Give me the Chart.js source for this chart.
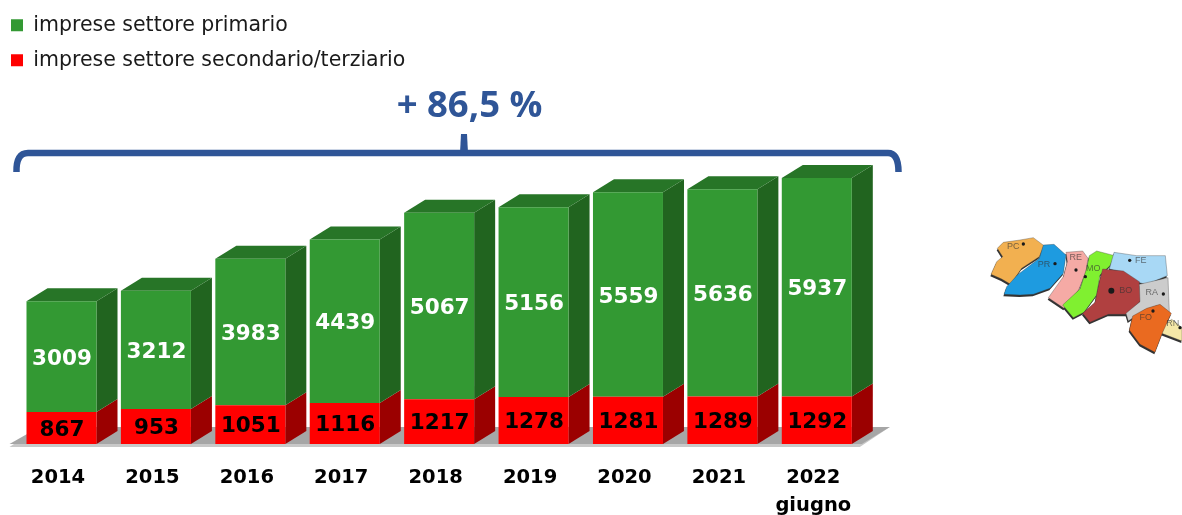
<!DOCTYPE html>
<html>
<head>
<meta charset="utf-8">
<title>Imprese</title>
<script src="https://cdn.jsdelivr.net/npm/chart.js@4"></script>
<style>
  html, body { margin: 0; padding: 0; background: #fff; }
  canvas { display: block; }
</style>
</head>
<body>
<canvas id="dataChart" width="1182" height="515"></canvas>
<script>
const years = ['2014', '2015', '2016', '2017', '2018', '2019', '2020', '2021', ['2022', 'giugno']];
const secondario = [867, 953, 1051, 1116, 1217, 1278, 1281, 1289, 1292];
const primario = [3009, 3212, 3983, 4439, 5067, 5156, 5559, 5636, 5937];
const seriesNames = ['imprese settore secondario/terziario', 'imprese settore primario'];
const growthLabel = '+ 86,5 %';

const depthX = 21;
const depthY = 13;
const sideColors = ['#9b0000', '#21641f'];
const topColor = '#277527';
const blue = '#2f5597';

function poly(ctx, pts, fill) {
    ctx.beginPath();
    pts.forEach((p, i) => i ? ctx.lineTo(p[0], p[1]) : ctx.moveTo(p[0], p[1]));
    ctx.closePath();
    ctx.fillStyle = fill;
    ctx.fill();
}

// gray floor + side and top faces of the bars, built from the bar elements
const bars3d = {
    id: 'bars3d',
    beforeDatasetsDraw(chart) {
        const ctx = chart.ctx;
        const low = chart.getDatasetMeta(0).data;
        const first = low[0];
        const last = low[low.length - 1];
        const floorY = first.base;
        const l = first.x - first.width / 2 - 17;
        const r = last.x + last.width / 2 + 8;
        poly(ctx, [[l, floorY + 3], [r, floorY + 3], [r + 30, floorY - 17], [l + 30, floorY - 17]], '#c8c8c8');
        poly(ctx, [[l, floorY], [r + 2, floorY], [r + 30, floorY - 17], [l + 30, floorY - 17]], '#a6a6a6');

        chart.data.datasets.forEach((ds, d) => {
            chart.getDatasetMeta(d).data.forEach(bar => {
                const right = bar.x + bar.width / 2;
                const left = bar.x - bar.width / 2;
                poly(ctx, [[right, bar.base], [right + depthX, bar.base - depthY],
                    [right + depthX, bar.y - depthY], [right, bar.y]], sideColors[d]);
                if (d === chart.data.datasets.length - 1) {
                    poly(ctx, [[left, bar.y], [left + depthX, bar.y - depthY],
                        [right + depthX, bar.y - depthY], [right, bar.y]], topColor);
                }
            });
        });
    },
    afterDatasetsDraw(chart) {
        const ctx = chart.ctx;
        ctx.save();
        ctx.font = 'bold 21.5px "DejaVu Sans"';
        ctx.textAlign = 'center';
        ctx.textBaseline = 'middle';
        chart.data.datasets.forEach((ds, d) => {
            ctx.fillStyle = d === 0 ? '#000000' : '#ffffff';
            chart.getDatasetMeta(d).data.forEach((bar, i) => {
                const c = bar.getCenterPoint();
                ctx.fillText(ds.data[i], c.x + 0.5, c.y + (d === 0 ? 2 : 2.5));
            });
        });
        ctx.restore();
    }
};

// curly bracket and growth figure above the bars
const bracket = {
    id: 'bracket',
    afterDraw(chart) {
        const ctx = chart.ctx;
        ctx.save();
        ctx.strokeStyle = blue;
        ctx.lineWidth = 6.5;
        ctx.beginPath();
        ctx.moveTo(16.5, 172);
        ctx.quadraticCurveTo(16, 153, 28, 153);
        ctx.lineTo(888, 153);
        ctx.quadraticCurveTo(898.5, 153, 898.5, 172);
        ctx.stroke();
        poly(ctx, [[460, 153], [461, 134], [467, 134], [468, 153]], blue);

        ctx.fillStyle = blue;
        ctx.font = 'bold 36.5px "Open Sans"';
        ctx.textAlign = 'center';
        ctx.textBaseline = 'middle';
        ctx.fillText(growthLabel, 469.5, 107);
        ctx.restore();
    }
};

// small region map on the right, traced on a 3x grid
const regions = [
    { name: 'PC', color: '#f2b050', tx: 100, ty: 65, dx: 130, dy: 57, pts: [[70,52],[120,45],[160,38],[192,62],[178,95],[125,130],[92,178],[65,162],[33,148],[50,110],[68,95],[52,70]] },
    { name: 'PR', color: '#1e9be0', tx: 192, ty: 120, dx: 225, dy: 116, pts: [[190,60],[222,58],[258,90],[250,145],[210,190],[160,208],[120,210],[72,208],[80,185],[112,150],[178,100]] },
    { name: 'RE', color: '#f5aaa5', tx: 287, ty: 97, dx: 288, dy: 135, pts: [[258,82],[308,78],[324,100],[318,140],[296,195],[252,250],[205,218],[250,155],[262,110]] },
    { name: 'MO', color: '#80f030', tx: 340, ty: 132, dx: 316, dy: 155, pts: [[328,92],[350,78],[404,92],[390,122],[360,150],[350,210],[312,262],[280,278],[248,240],[300,192],[320,130]] },
    { name: 'FE', color: '#a8d8f5', tx: 482, ty: 108, dx: 449, dy: 106, pts: [[402,82],[470,92],[556,92],[562,152],[500,178],[472,172],[425,140],[388,132]] },
    { name: 'BO', color: '#b04040', tx: 437, ty: 197, dx: 394, dy: 197, pts: [[368,132],[430,138],[478,170],[482,228],[442,268],[385,268],[330,292],[308,265],[345,232],[358,170]] },
    { name: 'RA', color: '#cccccc', tx: 515, ty: 203, dx: 550, dy: 207, pts: [[478,178],[564,158],[568,262],[530,242],[492,256],[445,288],[438,265],[480,230]] },
    { name: 'RN', color: '#f5e8a8', tx: 578, ty: 295, dx: 600, dy: 308, pts: [[555,298],[575,283],[606,308],[606,348],[545,325]] },
    { name: 'FO', color: '#ea6a20', tx: 497, ty: 277, dx: 519, dy: 258, pts: [[458,273],[500,250],[540,238],[574,265],[548,322],[525,382],[480,358],[448,315]] }
];

const regionMap = {
    id: 'regionMap',
    afterDraw(chart) {
        const ctx = chart.ctx;
        ctx.save();
        ctx.translate(980, 225);
        ctx.scale(1 / 3, 1 / 3);
        ctx.filter = 'blur(0.7px)';
        regions.forEach(reg => poly(ctx, reg.pts.map(p => [p[0] - 2, p[1] + 6]), '#333333'));
        regions.forEach(reg => {
            poly(ctx, reg.pts, reg.color);
            ctx.strokeStyle = 'rgba(60,60,60,0.5)';
            ctx.lineWidth = 2;
            ctx.stroke();
        });
        ctx.textAlign = 'center';
        ctx.textBaseline = 'middle';
        ctx.font = '27px "Liberation Sans"';
        regions.forEach(reg => {
            ctx.fillStyle = 'rgba(50,50,50,0.65)';
            ctx.fillText(reg.name, reg.tx, reg.ty);
            ctx.fillStyle = '#1a1a1a';
            ctx.beginPath();
            ctx.arc(reg.dx, reg.dy, reg.name === 'BO' ? 9 : 5, 0, Math.PI * 2);
            ctx.fill();
        });
        ctx.restore();
    }
};

// the legend sits in the top left corner, above the chart area
const legendCorner = {
    id: 'legendCorner',
    afterLayout(chart) {
        chart.legend.left = -3.5;
        chart.legend.top = 0.5;
    }
};

new Chart(document.getElementById('dataChart'), {
    type: 'bar',
    data: {
        labels: years,
        datasets: [
            { label: seriesNames[0], data: secondario, backgroundColor: '#ff0000' },
            { label: seriesNames[1], data: primario, backgroundColor: '#339933' }
        ]
    },
    options: {
        responsive: false,
        animation: false,
        devicePixelRatio: 1,
        layout: {
            padding: { left: 14.3, right: 318, top: 2.4, bottom: 0 }
        },
        datasets: {
            bar: { categoryPercentage: 1, barPercentage: 0.7415, borderWidth: 0 }
        },
        scales: {
            x: {
                stacked: true,
                afterFit(scale) { scale.height = 71; },
                grid: { display: false },
                border: { display: false },
                ticks: {
                    color: '#000000',
                    padding: 12,
                    labelOffset: -3.5,
                    maxRotation: 0,
                    font: { family: '"DejaVu Sans"', size: 19.5, weight: 'bold', lineHeight: 1.42 }
                }
            },
            y: {
                stacked: true,
                display: false,
                min: 0,
                max: 12000
            }
        },
        plugins: {
            legend: {
                position: 'chartArea',
                align: 'start',
                reverse: true,
                onClick: null,
                labels: {
                    boxWidth: 12,
                    boxHeight: 12,
                    padding: 14.5,
                    color: '#1a1a1a',
                    font: { family: '"DejaVu Sans"', size: 20.5 }
                }
            },
            tooltip: { enabled: false }
        }
    },
    plugins: [bars3d, bracket, regionMap, legendCorner]
});
</script>
</body>
</html>
